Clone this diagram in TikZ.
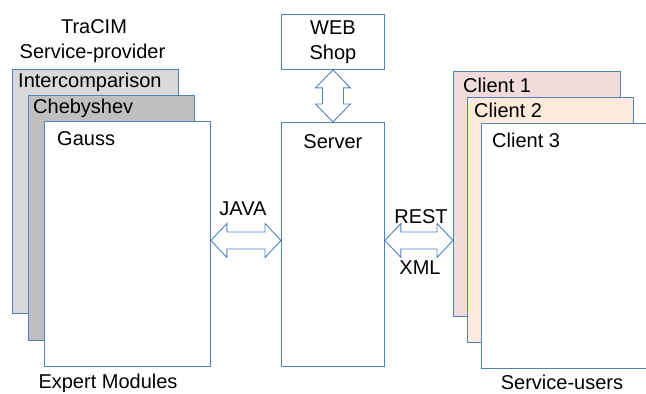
\documentclass[tikz,border=0pt]{standalone}
\usepackage{fontspec}
\setmainfont{Liberation Sans}
\usepackage{tikz}
\usetikzlibrary{positioning, calc}
\definecolor{borderBlue}{RGB}{79, 129, 189}
\definecolor{lightGray}{RGB}{217, 217, 217}
\definecolor{midGray}{RGB}{191, 191, 191}
\definecolor{clientRose}{RGB}{242, 220, 219}
\definecolor{clientPeach}{RGB}{253, 234, 218}

% hollow two-headed arrows between two anchors
\newcommand{\hdoublearrow}[2]{%
  \path[fatline] let \p1=(#1), \p2=(#2) in
    (\x1,\y1) -- (\x1+16pt,\y1+17pt) -- (\x1+16pt,\y1+8.5pt) -- (\x2-16pt,\y1+8.5pt)
    -- (\x2-16pt,\y1+17pt) -- (\x2,\y1) -- (\x2-16pt,\y1-17pt) -- (\x2-16pt,\y1-8.5pt)
    -- (\x1+16pt,\y1-8.5pt) -- (\x1+16pt,\y1-17pt) -- cycle;}
\newcommand{\vdoublearrow}[2]{%
  \path[fatline] let \p1=(#1), \p2=(#2) in
    (\x1,\y1) -- (\x1+17.5pt,\y1-18pt) -- (\x1+10.5pt,\y1-18pt) -- (\x1+10.5pt,\y2+18pt)
    -- (\x1+17.5pt,\y2+18pt) -- (\x1,\y2) -- (\x1-17.5pt,\y2+18pt) -- (\x1-10.5pt,\y2+18pt)
    -- (\x1-10.5pt,\y1-18pt) -- (\x1-17.5pt,\y1-18pt) -- cycle;}

\begin{document}
\begin{tikzpicture}[
  x=1pt, y=-1pt,
  module/.style={rectangle, draw=borderBlue, line width=0.9pt, anchor=north west, inner sep=0pt, minimum width=166pt, minimum height=245pt},
  caption/.style={font=\fontsize{20}{25}\selectfont, inner sep=0pt, anchor=base},
  tag/.style={caption, anchor=base west},
  fatline/.style={draw=borderBlue, line width=0.9pt, fill=white, line join=miter}
]
  \useasboundingbox (0,0) rectangle (646,394);

  % expert modules
  \node[caption] (tracim) at (94,33) {TraCIM};
  \node[caption] (provider) at (92.5,58) {Service-provider};
  \node[module, fill=lightGray, minimum height=244pt] (inter) at (12,69) {};
  \node[tag] (intertext) at ($(inter.north west)+(6,18)$) {Intercomparison};
  \node[module, fill=midGray] (cheb) at (28,95) {};
  \node[tag] (chebtext) at ($(cheb.north west)+(5,18)$) {Chebyshev};
  \node[module, fill=white] (gauss) at (44,121) {};
  \node[tag] (gausstext) at ($(gauss.north west)+(13,24)$) {Gauss};
  \node[caption] (expert) at (108,388.5) {Expert Modules};

  % server and shop
  \node[module, minimum width=103pt, minimum height=55pt, font=\fontsize{20}{25}\selectfont, align=center] (webshop) at (281,14) {WEB\\Shop};
  \node[module, fill=white, minimum width=103pt, minimum height=244pt] (server) at (281,122) {};
  \node[caption] (servertext) at ($(server.north)+(0,26)$) {Server};

  % service users
  \node[module, fill=clientRose, minimum width=167pt] (client1) at (453,71) {};
  \node[tag] (client1text) at ($(client1.north west)+(10,21)$) {Client 1};
  \node[module, fill=clientPeach] (client2) at (467,97) {};
  \node[tag] (client2text) at ($(client2.north west)+(7,20)$) {Client 2};
  \node[module, fill=white, minimum width=167pt] (client3) at (481,123) {};
  \node[tag] (client3text) at ($(client3.north west)+(11,24)$) {Client 3};
  \node[caption] (users) at (562,389) {Service-users};

  \vdoublearrow{webshop.south}{server.north}
  \hdoublearrow{$(gauss.east)+(0,-3.5)$}{server.west}
  \hdoublearrow{$(server.east)+(0,-4)$}{client1.west}
  \node[caption] (java) at (243,215) {JAVA};
  \node[caption] (rest) at (421,223) {REST};
  \node[caption] (xml) at (420,274) {XML};
\end{tikzpicture}
\end{document}
